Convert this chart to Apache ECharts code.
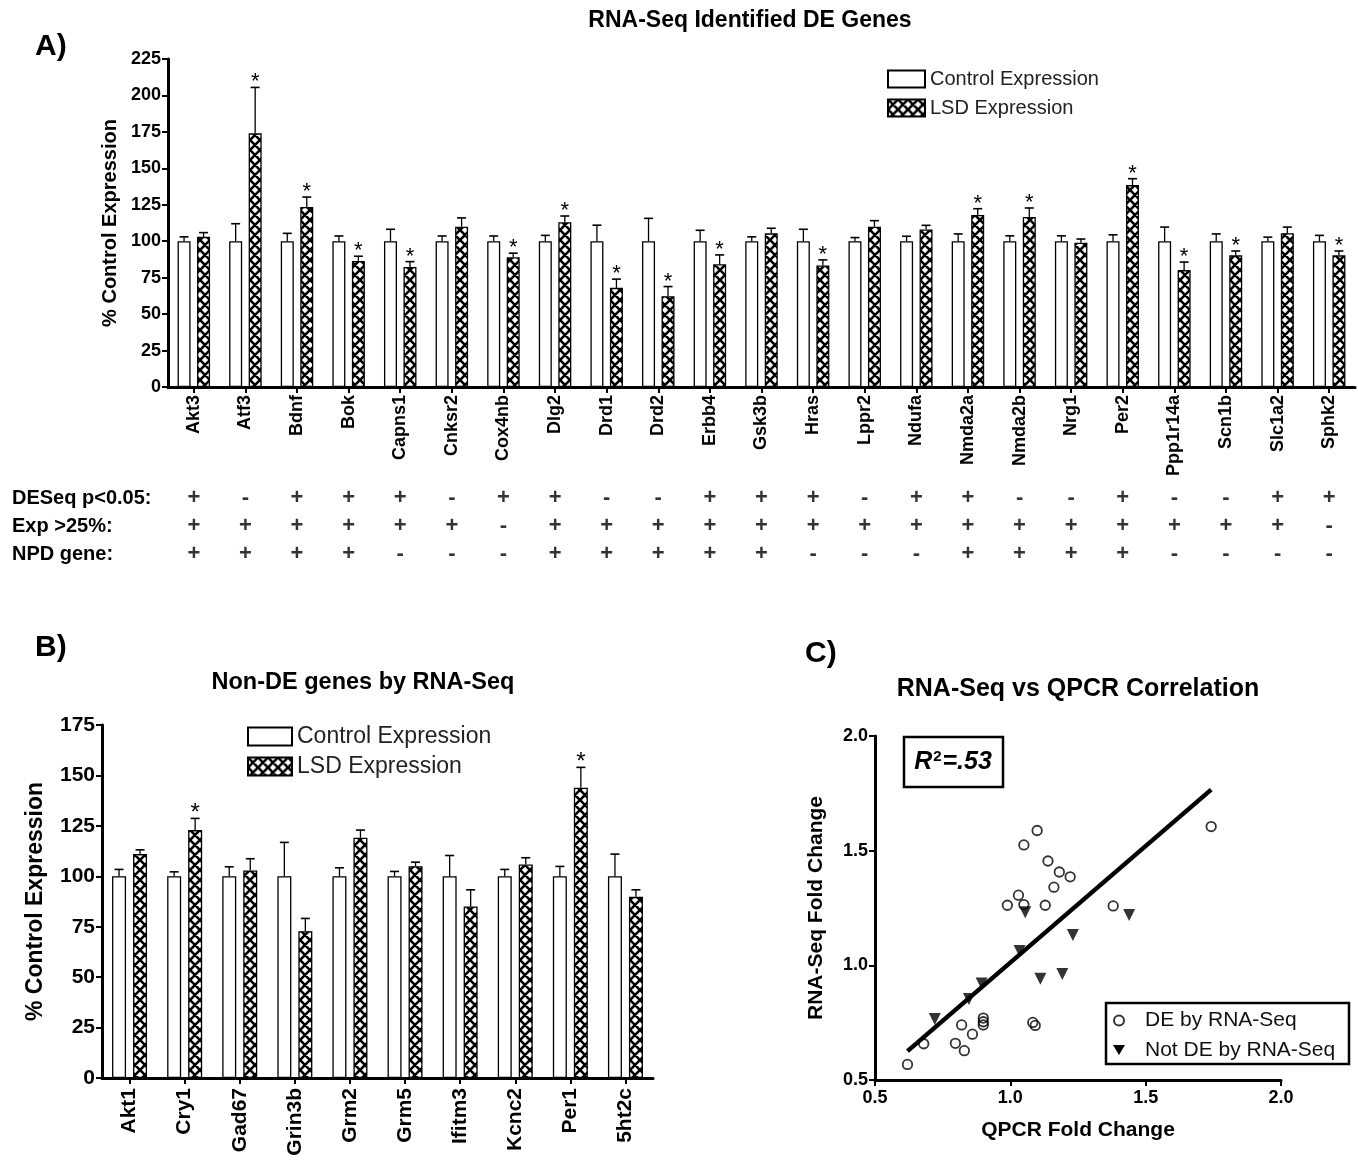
<!DOCTYPE html>
<html><head><meta charset="utf-8">
<script src="https://cdn.jsdelivr.net/npm/echarts@6/dist/echarts.min.js"></script>
<style>html,body{margin:0;padding:0;background:#fff}#c{width:1358px;height:1165px}</style>
</head><body><div id="c"></div>
<script>
// ---------- Panel A data ----------
const genesA = ['Akt3','Atf3','Bdnf','Bok','Capns1','Cnksr2','Cox4nb','Dlg2','Drd1','Drd2','Erbb4','Gsk3b','Hras','Lppr2','Ndufa','Nmda2a','Nmda2b','Nrg1','Per2','Ppp1r14a','Scn1b','Slc1a2','Sphk2'];
const ctrlA    = [100,100,100,100,100,100,100,100,100,100,100,100,100,100,100,100,100,100,100,100,100,100,100];
const ctrlSemA = [3,12,5.4,3.6,8.2,3.6,3.6,4,11,15.7,7.5,3,8.2,2.5,3.4,5,3.7,3.7,4.4,9.7,5,2.8,4];
const lsdA     = [103,174,123.5,86.5,82.4,110,89,113,68,62.3,84.2,105.4,83.3,110,108,118,116.6,99,138.5,80.2,90.3,105.5,90.3];
const lsdSemA  = [2.9,31.5,6.8,3.2,3.6,6,2.8,4.3,6,6.6,6.4,3.5,3.9,4.1,2.9,4.3,6.2,2.5,4.4,5.5,3,4.2,3];
const sigA     = [0,1,1,1,1,0,1,1,1,1,1,0,1,0,0,1,1,0,1,1,1,0,1];
// table under panel A
const tableRows = ['DESeq p<0.05:','Exp >25%:','NPD gene:'];
const deseqSig = ['+','-','+','+','+','-','+','+','-','-','+','+','+','-','+','+','-','-','+','-','-','+','+'];
const exp25    = ['+','+','+','+','+','+','-','+','+','+','+','+','+','+','+','+','+','+','+','+','+','+','-'];
const npdGene  = ['+','+','+','+','-','-','-','+','+','+','+','+','-','-','-','+','+','+','+','-','-','-','-'];
// ---------- Panel B data ----------
const genesB   = ['Akt1','Cry1','Gad67','Grin3b','Grm2','Grm5','Ifitm3','Kcnc2','Per1','5ht2c'];
const ctrlB    = [100,100,100,100,100,100,100,100,100,100];
const ctrlSemB = [3.4,2.2,4.7,16.8,4.2,2.4,10.3,3.4,4.9,11];
const lsdB     = [111,122.9,102.9,72.8,119.1,105,85,105.9,143.9,89.8];
const lsdSemB  = [2.1,5.8,5.8,6.3,3.8,2,8.3,3.3,10.1,3.5];
const sigB     = [0,1,0,0,0,0,0,0,1,0];
// ---------- Panel C data ----------
const deX    = [0.62,0.68,0.797,0.82,0.83,0.86,0.90,0.90,0.90,0.989,1.03,1.05,1.05,1.083,1.092,1.099,1.129,1.139,1.161,1.181,1.221,1.38,1.742];
const deY    = [0.568,0.658,0.66,0.74,0.628,0.70,0.77,0.754,0.74,1.262,1.306,1.265,1.525,0.751,0.738,1.588,1.262,1.455,1.341,1.407,1.386,1.259,1.605];
const notDeX = [0.721,0.847,0.894,1.034,1.055,1.111,1.192,1.231,1.439];
const notDeY = [0.766,0.853,0.921,1.063,1.232,0.941,0.962,1.132,1.219];
const fitX   = [0.62,1.742];
const fitY   = [0.626,1.766];

// ---------- styling helpers ----------
const FONT = 'Liberation Sans, Arial, Helvetica, sans-serif';
function makeHatch(){
  const s = 10, c = document.createElement('canvas');
  c.width = s; c.height = s;
  const g = c.getContext('2d');
  g.fillStyle = '#fff'; g.fillRect(0,0,s,s);
  g.strokeStyle = '#000'; g.lineWidth = 2.6;
  g.beginPath();
  for (let k=-1;k<=1;k++){
    g.moveTo(k*s, 0); g.lineTo(k*s+s, s);
    g.moveTo(k*s+s, 0); g.lineTo(k*s, s);
  }
  g.stroke();
  return c;
}
const hatch = {image: makeHatch(), repeat: 'repeat'};

const BAR_A = 13, BAR_B = 14, GAP = 0.5;
function errRender(offset, cap, starSize){
  return function(params, api){
    const m = api.value(1), e = api.value(2), star = api.value(3);
    const base = api.coord([api.value(0), m]);
    const top = api.coord([api.value(0), m + e]);
    const x = base[0] + offset;
    const ch = [
      {type:'line', shape:{x1:x, y1:base[1], x2:x, y2:top[1]}, style:{stroke:'#000', lineWidth:1.3}},
      {type:'line', shape:{x1:x-cap, y1:top[1], x2:x+cap, y2:top[1]}, style:{stroke:'#000', lineWidth:1.6}}
    ];
    if (star) ch.push({type:'text', x:x, y:top[1]-5, style:{text:'*', fill:'#000', font:starSize+'px '+FONT, textAlign:'center', textVerticalAlign:'middle'}});
    return {type:'group', children:ch};
  };
}
function errData(means, sems, sig){
  return means.map((m,i)=>[i, m, sems[i], sig ? sig[i] : 0]);
}
const tableData = [];
[deseqSig, exp25, npdGene].forEach((row, r)=>row.forEach((s,i)=>tableData.push([i, r, s])));

const axisLineBlack = {show:true, lineStyle:{color:'#000', width:3}};
const tickBlack = {show:true, length:6, lineStyle:{color:'#000', width:2}};

const option = {
  animation:false,
  backgroundColor:'#fff',
  textStyle:{fontFamily:FONT, color:'#000'},
  title:[
    {text:'RNA-Seq Identified DE Genes', left:750, top:9, textAlign:'center', padding:0, textStyle:{fontSize:23, fontWeight:'bold', color:'#000'}},
    {text:'Non-DE genes by RNA-Seq', left:363, top:671, textAlign:'center', padding:0, textStyle:{fontSize:23.5, fontWeight:'bold', color:'#000'}},
    {text:'RNA-Seq vs QPCR Correlation', left:1078, top:677, textAlign:'center', padding:0, textStyle:{fontSize:25, fontWeight:'bold', color:'#000'}},
    {text:'A)', left:35, top:32, padding:0, textStyle:{fontSize:30, fontWeight:'bold', color:'#000'}},
    {text:'B)', left:35, top:633, padding:0, textStyle:{fontSize:30, fontWeight:'bold', color:'#000'}},
    {text:'C)', left:805, top:639, padding:0, textStyle:{fontSize:30, fontWeight:'bold', color:'#000'}}
  ],
  legend:[
    {data:['Control Expression','LSD Expression'], left:887, top:69, orient:'vertical', itemWidth:37, itemHeight:17, itemGap:9, icon:'rect', padding:0,
     textStyle:{fontSize:20, color:'#222', lineHeight:17}, selectedMode:false},
    {data:['Control Expression','LSD Expression'], left:247, top:725, orient:'vertical', itemWidth:44, itemHeight:18, itemGap:7, icon:'rect', padding:0,
     textStyle:{fontSize:23, color:'#222', lineHeight:18}, selectedMode:false},
    {data:['DE by RNA-Seq', {name:'Not DE by RNA-Seq', itemStyle:{opacity:0}}],
     left:1113, top:1010, orient:'vertical', itemWidth:12, itemHeight:10, itemGap:9, padding:0,
     textStyle:{fontSize:21, color:'#111', lineHeight:21, padding:[0,0,0,15]}, selectedMode:false}
  ],
  grid:[
    {left:168, top:59, width:1187, height:328, outerBoundsMode:'none'},
    {left:168, top:484, width:1187, height:84, outerBoundsMode:'none'},
    {left:102, top:725, width:551, height:353, outerBoundsMode:'none'},
    {left:875, top:736, width:406, height:344, outerBoundsMode:'none'}
  ],
  xAxis:[
    {gridIndex:0, type:'category', data:genesA, axisLine:axisLineBlack, axisTick:Object.assign({alignWithLabel:true}, tickBlack),
     axisLabel:{rotate:90, interval:0, fontSize:18, fontWeight:'bold', color:'#000', margin:8}, splitLine:{show:false}},
    {gridIndex:1, type:'category', data:genesA, show:false},
    {gridIndex:2, type:'category', data:genesB, axisLine:axisLineBlack, axisTick:Object.assign({alignWithLabel:true}, tickBlack),
     axisLabel:{rotate:90, interval:0, fontSize:21, fontWeight:'bold', color:'#000', margin:10}, splitLine:{show:false}},
    {gridIndex:3, type:'value', min:0.5, max:2.0, interval:0.5, name:'QPCR Fold Change', nameLocation:'middle', nameGap:40,
     nameTextStyle:{fontSize:21, fontWeight:'bold', color:'#000'}, axisLine:axisLineBlack, axisTick:tickBlack,
     axisLabel:{fontSize:18, fontWeight:'bold', color:'#000', margin:9, formatter:v=>v.toFixed(1)}, splitLine:{show:false}}
  ],
  yAxis:[
    {gridIndex:0, type:'value', min:0, max:225, interval:25, name:'% Control Expression', nameLocation:'middle', nameGap:48,
     nameTextStyle:{fontSize:20, fontWeight:'bold', color:'#000'}, axisLine:axisLineBlack, axisTick:tickBlack,
     axisLabel:{fontSize:18, fontWeight:'bold', color:'#000', margin:7}, splitLine:{show:false}},
    {gridIndex:1, type:'category', data:tableRows, inverse:true, axisLine:{show:false}, axisTick:{show:false}, splitLine:{show:false},
     axisLabel:{align:'left', margin:156, fontSize:20, fontWeight:'bold', color:'#000'}},
    {gridIndex:2, type:'value', min:0, max:175, interval:25, name:'% Control Expression', nameLocation:'middle', nameGap:55,
     nameTextStyle:{fontSize:23, fontWeight:'bold', color:'#000'}, axisLine:axisLineBlack, axisTick:tickBlack,
     axisLabel:{fontSize:21, fontWeight:'bold', color:'#000', margin:7}, splitLine:{show:false}},
    {gridIndex:3, type:'value', min:0.5, max:2.0, interval:0.5, name:'RNA-Seq Fold Change', nameLocation:'middle', nameGap:48,
     nameTextStyle:{fontSize:21, fontWeight:'bold', color:'#000'}, axisLine:axisLineBlack, axisTick:tickBlack,
     axisLabel:{fontSize:18, fontWeight:'bold', color:'#000', margin:7, formatter:v=>v.toFixed(1)}, splitLine:{show:false}}
  ],
  series:[
    // Panel A bars
    {type:'bar', name:'Control Expression', xAxisIndex:0, yAxisIndex:0, data:ctrlA, barWidth:BAR_A, barGap:(GAP*100)+'%',
     itemStyle:{color:'#fff', borderColor:'#000', borderWidth:1.3}},
    {type:'bar', name:'LSD Expression', xAxisIndex:0, yAxisIndex:0, data:lsdA, barWidth:BAR_A, barGap:(GAP*100)+'%',
     itemStyle:{color:hatch, borderColor:'#000', borderWidth:1.3}},
    {type:'custom', xAxisIndex:0, yAxisIndex:0, data:errData(ctrlA, ctrlSemA, null), z:5, clip:false,
     renderItem:errRender(-(BAR_A*(1+GAP))/2, 4.5, 22), encode:{x:0, y:1}},
    {type:'custom', xAxisIndex:0, yAxisIndex:0, data:errData(lsdA, lsdSemA, sigA), z:5, clip:false,
     renderItem:errRender((BAR_A*(1+GAP))/2, 4.5, 22), encode:{x:0, y:1}},
    // table
    {type:'scatter', xAxisIndex:1, yAxisIndex:1, data:tableData, symbolSize:0, silent:true,
     itemStyle:{color:'rgba(0,0,0,0)'},
     label:{show:true, position:'inside', formatter:p=>p.value[2], fontSize:22, fontWeight:'bold', color:'#000'}},
    // Panel B bars
    {type:'bar', name:'Control Expression', xAxisIndex:2, yAxisIndex:2, data:ctrlB, barWidth:BAR_B, barGap:(GAP*100)+'%',
     itemStyle:{color:'#fff', borderColor:'#000', borderWidth:1.3}},
    {type:'bar', name:'LSD Expression', xAxisIndex:2, yAxisIndex:2, data:lsdB, barWidth:BAR_B, barGap:(GAP*100)+'%',
     itemStyle:{color:hatch, borderColor:'#000', borderWidth:1.3}},
    {type:'custom', xAxisIndex:2, yAxisIndex:2, data:errData(ctrlB, ctrlSemB, null), z:5, clip:false,
     renderItem:errRender(-(BAR_B*(1+GAP))/2, 4.5, 24), encode:{x:0, y:1}},
    {type:'custom', xAxisIndex:2, yAxisIndex:2, data:errData(lsdB, lsdSemB, sigB), z:5, clip:false,
     renderItem:errRender((BAR_B*(1+GAP))/2, 4.5, 24), encode:{x:0, y:1}},
    // Panel C
    {type:'line', xAxisIndex:3, yAxisIndex:3, data:fitX.map((x,i)=>[x, fitY[i]]), symbol:'none', silent:true,
     lineStyle:{color:'#000', width:4.5}, z:2},
    {type:'scatter', name:'DE by RNA-Seq', xAxisIndex:3, yAxisIndex:3, data:deX.map((x,i)=>[x, deY[i]]), symbol:'circle', symbolSize:9.5,
     itemStyle:{color:'rgba(255,255,255,0)', borderColor:'#000', borderWidth:1.8}, z:3},
    {type:'scatter', name:'Not DE by RNA-Seq', xAxisIndex:3, yAxisIndex:3, data:notDeX.map((x,i)=>[x, notDeY[i]]), symbol:'triangle', symbolRotate:180, symbolSize:12,
     itemStyle:{color:'#000'}, z:3}
  ],
  graphic:[
    {type:'rect', shape:{x:904, y:737, width:99, height:50}, style:{fill:'#fff', stroke:'#000', lineWidth:2.5}, z:10},
    {type:'text', x:953, y:762, z:11, style:{text:'{r|R}{s|2}{r|=.53}', textAlign:'center', textVerticalAlign:'middle',
      rich:{r:{fontSize:25, fontWeight:'bold', fontStyle:'italic', fontFamily:FONT, fill:'#000', lineHeight:26},
            s:{fontSize:15, fontWeight:'bold', fontFamily:FONT, fill:'#000', verticalAlign:'top', lineHeight:26, padding:[0,1,12,1]}}}},
    {type:'rect', shape:{x:1106, y:1003, width:243, height:61}, style:{fill:'none', stroke:'#000', lineWidth:2.5}, z:10},
    // legend key glyph for the downward triangle marker
    {type:'polygon', shape:{points:[[1113,1045],[1125,1045],[1119,1055]]}, style:{fill:'#000'}, z:12}
  ]
};
const chart = echarts.init(document.getElementById('c'), null, {renderer:'canvas'});
chart.setOption(option);
</script></body></html>
